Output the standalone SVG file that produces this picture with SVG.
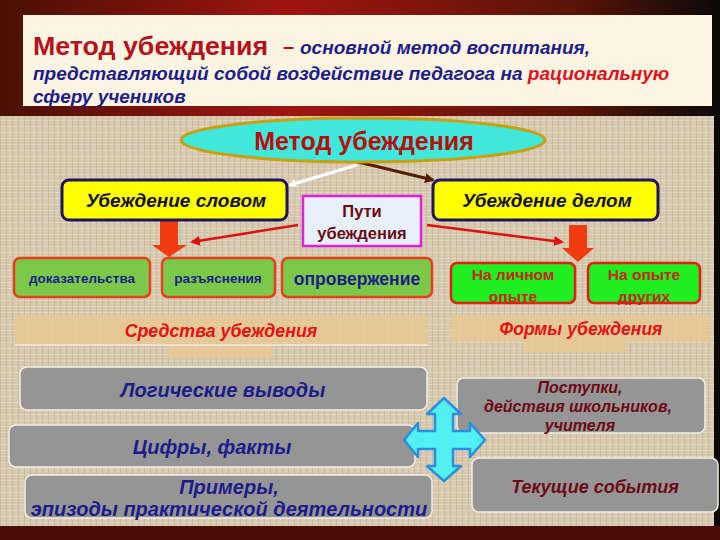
<svg xmlns="http://www.w3.org/2000/svg" width="720" height="540" viewBox="0 0 720 540">
<defs>
<linearGradient id="frameTop" x1="0" y1="0" x2="1" y2="0">
<stop offset="0" stop-color="#4a1006"/>
<stop offset="0.4" stop-color="#a01510"/>
<stop offset="0.8" stop-color="#5a1408"/>
<stop offset="1" stop-color="#0a0a0a"/>
</linearGradient>
<pattern id="linen" width="6" height="6" patternUnits="userSpaceOnUse">
<rect width="6" height="6" fill="#d5c8ae"/>
<rect x="0" y="0" width="6" height="1" fill="#e4d9c3"/>
<rect x="0" y="0" width="1" height="6" fill="#c9bca1"/>
<rect x="3" y="3" width="2" height="1" fill="#e0d4bb"/>
</pattern>
<marker id="mWhite" markerWidth="8" markerHeight="8" refX="6" refY="4" orient="auto" markerUnits="userSpaceOnUse">
<path d="M0,0 L8,4 L0,8 Z" fill="#ffffff"/>
</marker>
<marker id="mBrown" markerWidth="10" markerHeight="10" refX="8" refY="5" orient="auto" markerUnits="userSpaceOnUse">
<path d="M0,0 L10,5 L0,10 Z" fill="#5a1a08"/>
</marker>
<marker id="mRed" markerWidth="10" markerHeight="10" refX="8" refY="5" orient="auto" markerUnits="userSpaceOnUse">
<path d="M0,0 L10,5 L0,10 Z" fill="#e01010"/>
</marker>
<style>
text{font-family:"Liberation Sans",Arial,sans-serif;}
.yel{fill:#ffff00;stroke:#1e1460;stroke-width:3;}
.g1{fill:#7cc848;stroke:#e8401c;stroke-width:2.5;}
.g2{fill:#20ee20;stroke:#e02010;stroke-width:2.5;}
.grey{fill:#959595;stroke:#f2eee4;stroke-width:1.5;}
.band{fill:#e8c894;opacity:0.85;}
.ti{font-weight:bold;font-style:italic;}
.b{font-weight:bold;}
.navy{fill:#1c1c8a;}
.dred{fill:#6e0a14;}
</style>
</defs>

<!-- background frame -->
<rect x="0" y="0" width="720" height="540" fill="#4a0e06"/>
<rect x="0" y="0" width="720" height="118" fill="url(#frameTop)"/>
<rect x="0" y="116" width="714" height="410" fill="url(#linen)"/>
<rect x="714" y="0" width="6" height="540" fill="#0c0a08"/>
<rect x="0" y="526" width="720" height="14" fill="#4a0c06"/>

<!-- header -->
<g id="header">
<rect x="23" y="15" width="689" height="91" fill="#fdf5e2"/>
<text x="33" y="55" font-size="26" class="b" fill="#b5121b" textLength="235" lengthAdjust="spacingAndGlyphs">Метод убеждения</text>
<text x="283" y="53" font-size="20" class="b" fill="#b5121b">–</text>
<text x="300" y="54" font-size="19" class="ti navy">основной метод воспитания,</text>
<text x="33" y="80" font-size="19" class="ti navy">представляющий собой воздействие педагога на <tspan fill="#e01020">рациональную</tspan></text>
<text x="33" y="103" font-size="19" class="ti navy">сферу учеников</text>
</g>

<!-- connectors -->
<g id="connectors">
<line x1="357" y1="165" x2="290" y2="185" stroke="#ffffff" stroke-width="3" marker-end="url(#mWhite)"/>
<line x1="350" y1="160" x2="433" y2="180" stroke="#5a1a08" stroke-width="3" marker-end="url(#mBrown)"/>
<line x1="298" y1="225" x2="192" y2="242" stroke="#e01010" stroke-width="2.5" marker-end="url(#mRed)"/>
<line x1="427" y1="225" x2="562" y2="242" stroke="#e01010" stroke-width="2.5" marker-end="url(#mRed)"/>
<path d="M160,220 L178,220 L178,245 L187,245 L169,257 L152,245 L160,245 Z" fill="#f03c10"/>
<path d="M569,225 L587,225 L587,248 L594,248 L578,262 L562,248 L569,248 Z" fill="#f03c10"/>
</g>

<!-- main ellipse -->
<g id="main">
<ellipse cx="363" cy="140" rx="182" ry="22" fill="#40e8dc" stroke="#c8a010" stroke-width="3"/>
<text x="364" y="150" font-size="25" class="b" fill="#b80c0c" text-anchor="middle">Метод убеждения</text>
</g>

<g id="slovom">
<rect x="62" y="180" width="225" height="40" rx="7" class="yel"/>
<text x="176" y="207" font-size="19" class="ti" fill="#111" text-anchor="middle">Убеждение словом</text>
</g>
<g id="delom">
<rect x="433" y="180" width="225" height="40" rx="7" class="yel"/>
<text x="547" y="207" font-size="19" class="ti" fill="#111" text-anchor="middle">Убеждение делом</text>
</g>
<g id="puti">
<rect x="303" y="196" width="118" height="50" fill="#e6f0fb" stroke="#e020e0" stroke-width="2.5"/>
<text x="362" y="217" font-size="16.5" class="b" fill="#6a0a14" text-anchor="middle">Пути</text>
<text x="362" y="239" font-size="16.5" class="b" fill="#6a0a14" text-anchor="middle">убеждения</text>
</g>

<g id="dokaz">
<rect x="14" y="258" width="136" height="39" rx="6" class="g1"/>
<text x="82" y="283" font-size="13.5" class="b navy" text-anchor="middle">доказательства</text>
</g>
<g id="razyasn">
<rect x="162" y="258" width="113" height="39" rx="6" class="g1"/>
<text x="218" y="283" font-size="13.5" class="b navy" text-anchor="middle">разъяснения</text>
</g>
<g id="oprov">
<rect x="282" y="258" width="150" height="39" rx="6" class="g1"/>
<text x="357" y="285" font-size="17.5" class="b navy" text-anchor="middle">опровержение</text>
</g>
<g id="lichnyi">
<rect x="451" y="263" width="124" height="40" rx="6" class="g2"/>
<text x="513" y="280" font-size="15.5" class="b" fill="#c02818" text-anchor="middle">На личном</text>
<text x="513" y="302" font-size="15.5" class="b" fill="#c02818" text-anchor="middle">опыте</text>
</g>
<g id="drugih">
<rect x="588" y="263" width="112" height="40" rx="6" class="g2"/>
<text x="644" y="280" font-size="15.5" class="b" fill="#c02818" text-anchor="middle">На опыте</text>
<text x="644" y="302" font-size="15.5" class="b" fill="#c02818" text-anchor="middle">других</text>
</g>

<!-- banners -->
<g id="sredstva">
<rect x="15" y="315" width="413" height="29" class="band"/>
<rect x="168" y="344" width="105" height="14" class="band"/>
<line x1="15" y1="345" x2="428" y2="345" stroke="#f4ecdc" stroke-width="1.5"/>
<text x="221" y="337" font-size="17.8" class="ti" fill="#e81010" text-anchor="middle">Средства убеждения</text>
</g>
<g id="formy">
<rect x="450" y="315" width="260" height="27" class="band"/>
<rect x="523" y="342" width="104" height="10" class="band"/>
<text x="581" y="335" font-size="17.5" class="ti" fill="#e81010" text-anchor="middle">Формы убеждения</text>
</g>

<!-- means -->
<g id="logic">
<rect x="20" y="367" width="407" height="43" rx="7" class="grey"/>
<text x="223" y="397" font-size="20" class="ti navy" text-anchor="middle">Логические выводы</text>
</g>
<g id="cifry">
<rect x="9" y="425" width="406" height="42" rx="7" class="grey"/>
<text x="212" y="454" font-size="20" class="ti navy" text-anchor="middle">Цифры, факты</text>
</g>
<g id="primery">
<rect x="25" y="475" width="407" height="43" rx="7" class="grey"/>
<text x="229" y="494" font-size="20" class="ti navy" text-anchor="middle">Примеры,</text>
<text x="229" y="516" font-size="20" class="ti navy" text-anchor="middle">эпизоды практической деятельности</text>
</g>

<!-- forms -->
<g id="postupki">
<rect x="457" y="378" width="248" height="55" rx="7" class="grey"/>
<text x="580" y="393" font-size="16" class="ti dred" text-anchor="middle">Поступки,</text>
<text x="578" y="412" font-size="16" class="ti dred" text-anchor="middle">действия школьников,</text>
<text x="580" y="431" font-size="16" class="ti dred" text-anchor="middle">учителя</text>
</g>
<g id="tekushie">
<rect x="472" y="458" width="246" height="54" rx="7" class="grey"/>
<text x="595" y="493" font-size="18" class="ti dred" text-anchor="middle">Текущие события</text>
</g>

<!-- 4-way arrow -->
<g id="cross">
<path d="M444,398 L461,414 L453,414 L453,431 L470,431 L470,423 L485,440 L470,457 L470,449 L453,449 L453,466 L461,466 L444,481 L427,466 L435,466 L435,449 L418,449 L418,457 L404,440 L418,423 L418,431 L435,431 L435,414 L427,414 Z" fill="#52f0f0" stroke="#2c8ee0" stroke-width="2.5" stroke-linejoin="round"/>
</g>
</svg>
